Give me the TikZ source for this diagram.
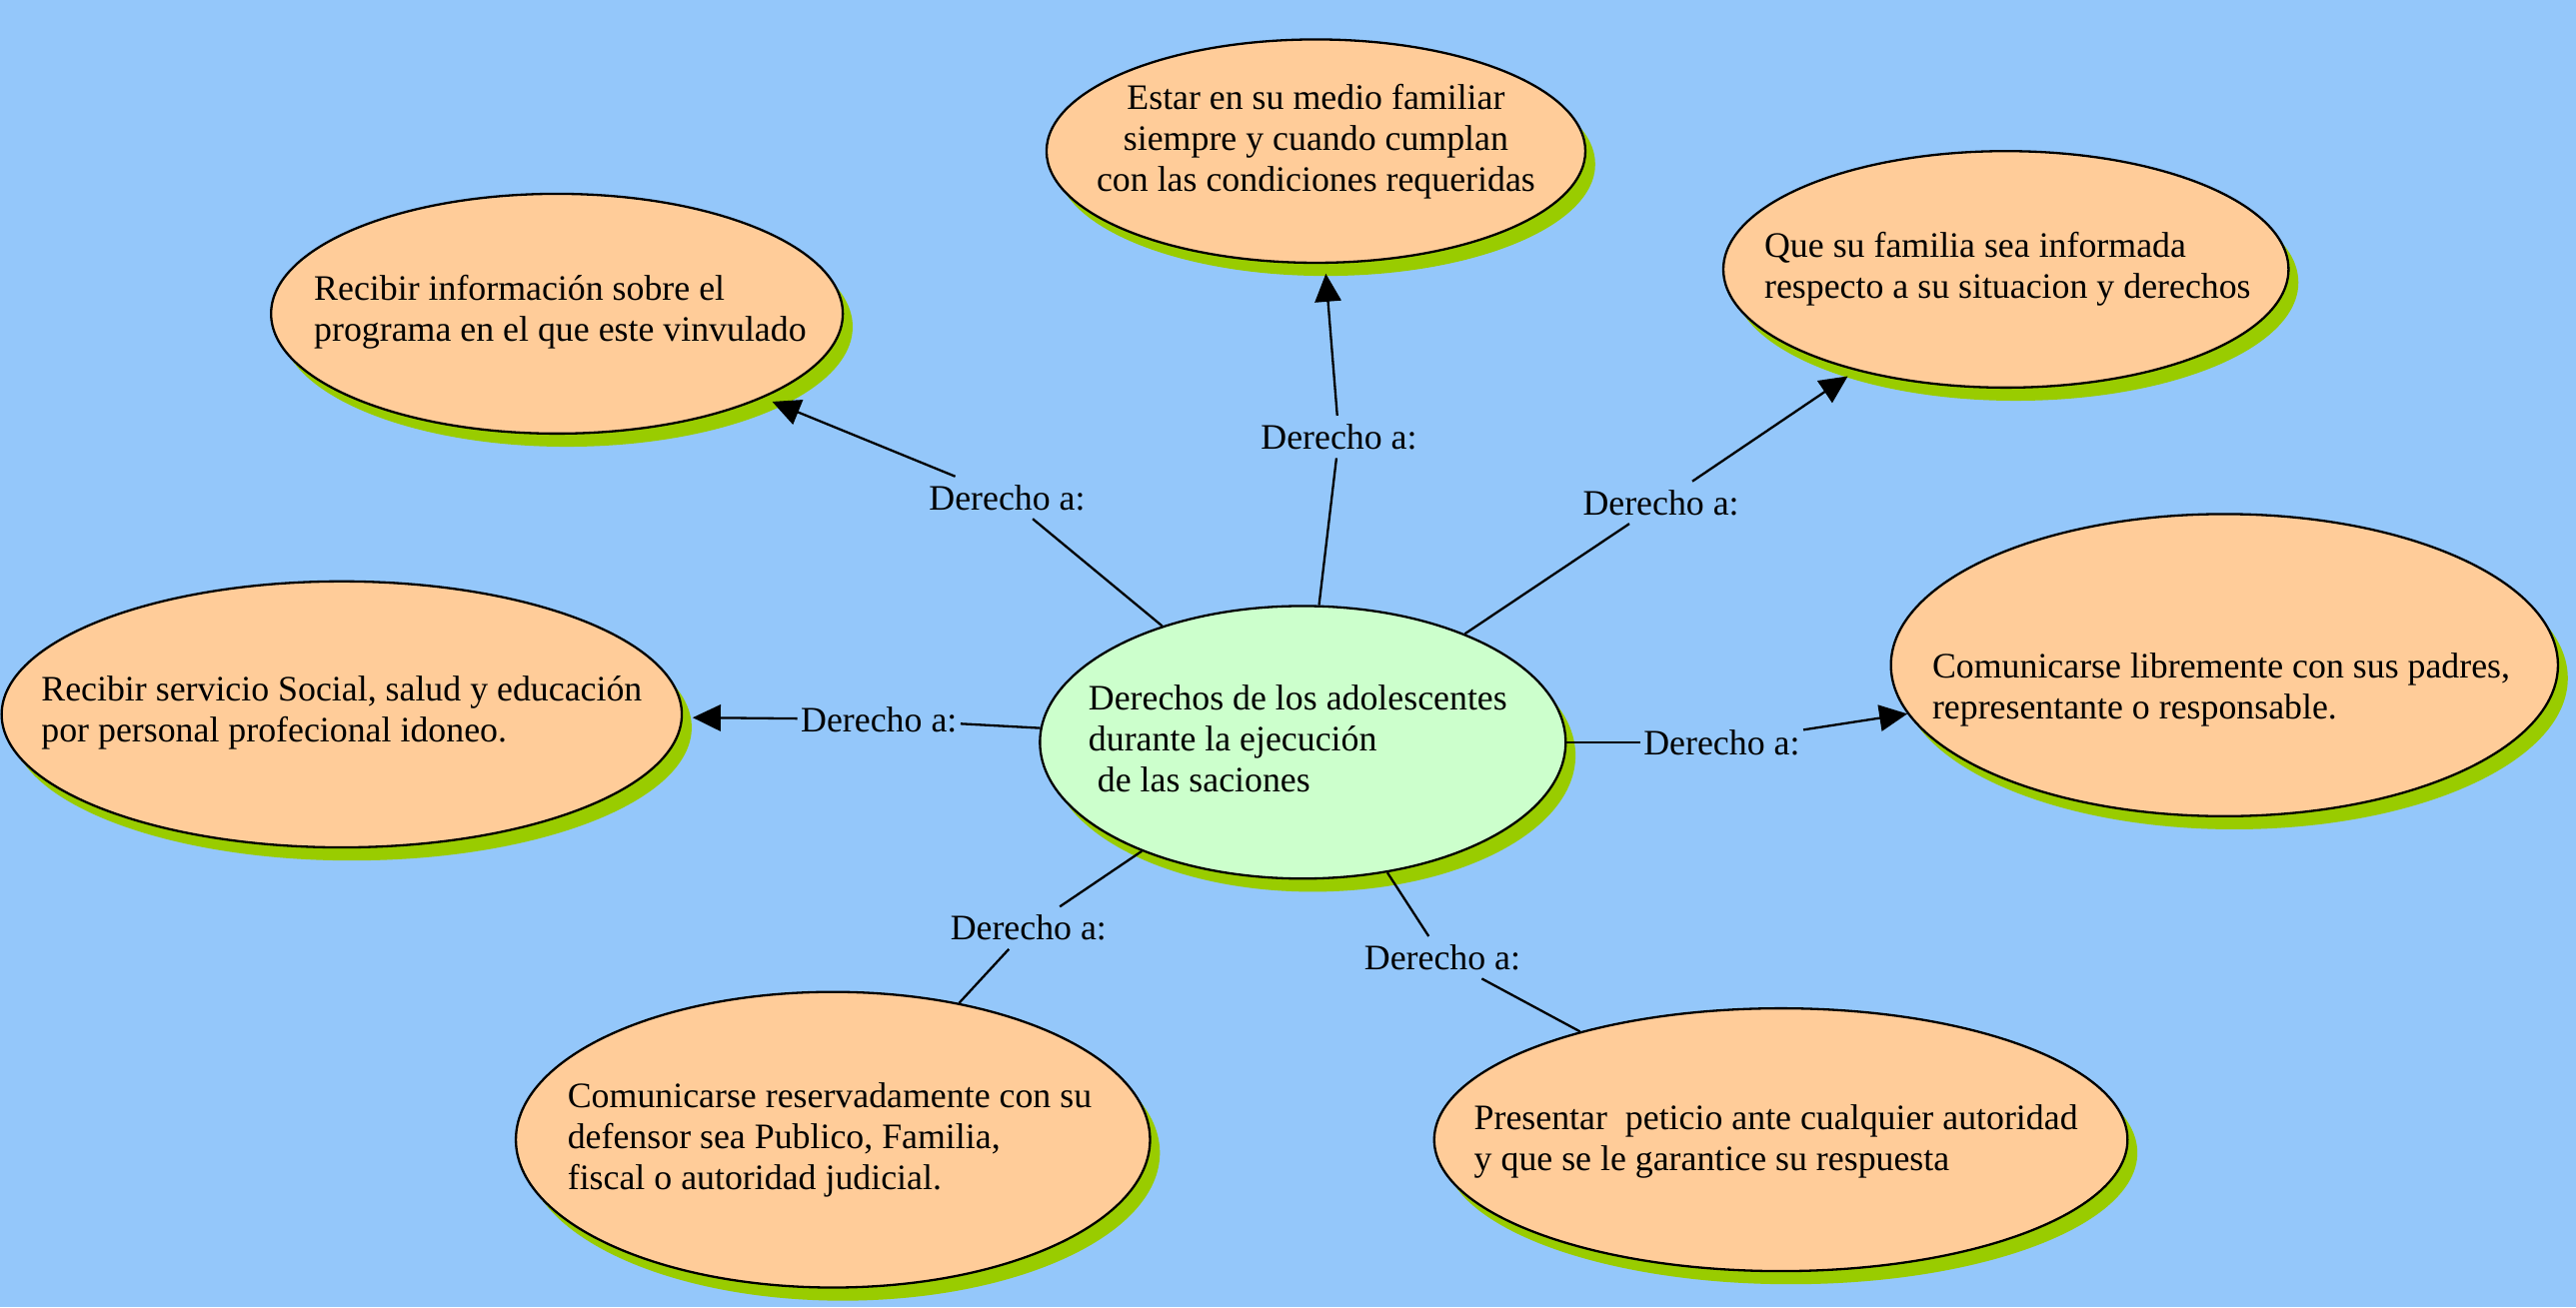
\documentclass[tikz,border=0pt]{standalone}
\usepackage{fontspec}
\setmainfont{Liberation Serif}
\usetikzlibrary{shapes.geometric,shadows,arrows.meta}
\definecolor{bgblue}{RGB}{148,199,250}
\definecolor{peach}{RGB}{255,204,153}
\definecolor{mint}{RGB}{204,255,204}
\definecolor{shgreen}{RGB}{153,204,0}
\begin{document}
\begin{tikzpicture}[x=1pt,y=-1pt,
  bubble/.style={ellipse, draw=black, line width=1.4pt, fill=peach, inner sep=0pt,
    drop shadow={shadow xshift=6pt,shadow yshift=-8pt,fill=shgreen,opacity=1}},
  btext/.style={align=left, font=\fontsize{21.8}{25}\selectfont, inner sep=0pt},
  lab/.style={font=\fontsize{21.8}{25}\selectfont, inner xsep=2pt, inner ysep=5pt},
  conn/.style={line width=1.4pt},
  arr/.style={conn, -{Triangle[length=17pt,width=16pt]}, shorten >=6pt}]
\fill[bgblue] (0,0) rectangle (1568,796);
\useasboundingbox (0,0) rectangle (1568,796);

% ellipses
\node[bubble, minimum width=328pt, minimum height=136pt] (e1) at (801,92) {};
\node[bubble, minimum width=348pt, minimum height=146pt] (e2) at (339,191) {};
\node[bubble, minimum width=344pt, minimum height=144pt] (e3) at (1221,164) {};
\node[bubble, minimum width=414pt, minimum height=162pt] (e4) at (208,435) {};
\node[bubble, fill=mint, minimum width=320pt, minimum height=166pt] (e5) at (793,452) {};
\node[bubble, minimum width=406pt, minimum height=184pt] (e6) at (1354,405) {};
\node[bubble, minimum width=386pt, minimum height=180pt] (e7) at (507,694) {};
\node[bubble, minimum width=422pt, minimum height=160pt] (e8) at (1084,694) {};

% texts
\node[btext, align=center] (t1) at (801,86) {Estar en su medio familiar\\siempre y cuando cumplan\\con las condiciones requeridas};
\node[btext] (t2) at (341,190) {Recibir información sobre el\\programa en el que este vinvulado};
\node[btext] (t3) at (1222,164) {Que su familia sea informada\\respecto a su situacion y derechos};
\node[btext] (t4) at (208,434) {Recibir servicio Social, salud y educación\\por personal profecional idoneo.};
\node[btext] (t5) at (790,450) {Derechos de los adolescentes\\durante la ejecución\\~de las saciones};
\node[btext] (t6) at (1352,420) {Comunicarse libremente con sus padres,\\representante o responsable.};
\node[btext] (t7) at (505,694) {Comunicarse reservadamente con su\\defensor sea Publico, Familia,\\fiscal o autoridad judicial.};
\node[btext] (t8) at (1081,695) {Presentar\ \ peticio ante cualquier autoridad\\y que se le garantice su respuesta};

% labels
\node[lab] (l1) at (815,266) {Derecho a:};
\node[lab] (l2) at (613,303) {Derecho a:};
\node[lab] (l3) at (1011,306) {Derecho a:};
\node[lab] (l4) at (535,438) {Derecho a:};
\node[lab] (l5) at (1048,452) {Derecho a:};
\node[lab] (l6) at (626,565) {Derecho a:};
\node[lab] (l7) at (878,583) {Derecho a:};

% connectors
\draw[conn] (e5) -- (l1); \draw[arr] (l1) -- (e1);
\draw[conn] (e5) -- (l2); \draw[arr] (l2) -- (e2);
\draw[conn] (e5) -- (l3); \draw[arr] (l3) -- (e3);
\draw[conn] (e5) -- (l4); \draw[arr] (l4) -- (e4);
\draw[conn] (e5) -- (l5); \draw[arr, shorten >=0pt] (l5) -- (e6);
\draw[conn] (e5) -- (l6); \draw[conn] (l6) -- (e7);
\draw[conn] (e5) -- (l7); \draw[conn] (l7) -- (e8);
\end{tikzpicture}
\end{document}
